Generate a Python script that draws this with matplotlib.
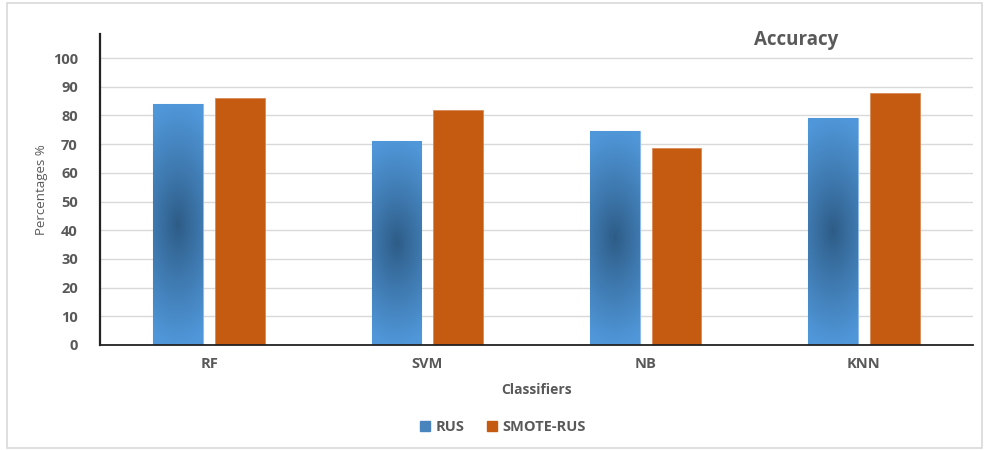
import numpy as np
import matplotlib.pyplot as plt
from matplotlib.patches import Rectangle, Patch
from matplotlib.colors import to_rgb

classifiers = ["RF", "SVM", "NB", "KNN"]
rus = [84.0, 71.2, 74.6, 79.2]
smote_rus = [86.2, 81.9, 68.6, 87.8]

plt.rcParams['font.family'] = ['Open Sans', 'DejaVu Sans']
gray = '#595959'
orange = '#c55a11'
blue_light = np.array(to_rgb('#5097d9'))
blue_dark = np.array(to_rgb('#2d5b85'))

fig = plt.figure(figsize=(9.84, 4.5), dpi=100)
ax = fig.add_axes([100 / 984, 105 / 450, 873 / 984, 311 / 450])

x = np.arange(len(classifiers)) + 0.5
w = 0.228
off = 0.141

rus_bars = ax.bar(x - off, rus, w, color=blue_light, edgecolor='#8fbbe6', linewidth=0.8, zorder=2)
ax.bar(x + off, smote_rus, w, color=orange, edgecolor='#d98a57', linewidth=0.6, zorder=2)

# radial shading for the RUS bars, dark in the middle, lighter at the ends
ny, nx = 200, 40
yy, xx = np.mgrid[-1:1:ny * 1j, -1:1:nx * 1j]
r = np.clip(np.sqrt((0.45 * xx) ** 2 + yy ** 2), 0, 1) ** 0.9
shade = blue_dark + (blue_light - blue_dark) * r[..., None]
for bar in rus_bars:
    x0, h = bar.get_x(), bar.get_height()
    im = ax.imshow(shade, extent=[x0, x0 + w, 0, h], origin='lower',
                   aspect='auto', zorder=2.5, interpolation='bilinear')
    im.set_clip_path(bar)

ax.set_xlim(0, 4)
ax.set_ylim(0, 108.4)
ax.set_yticks(range(0, 101, 10))
ax.set_xticks(x)
ax.set_xticklabels(classifiers)
ax.tick_params(length=0, labelcolor=gray, labelsize=10.5)
ax.tick_params(axis='y', pad=16)
ax.tick_params(axis='x', pad=9)
for lab in ax.get_xticklabels() + ax.get_yticklabels():
    lab.set_fontweight('bold')

ax.set_axisbelow(True)
ax.yaxis.grid(True, color='#d9d9d9', linewidth=1.0)
for s in ['top', 'right']:
    ax.spines[s].set_visible(False)
ax.spines['left'].set_linewidth(1.6)
ax.spines['bottom'].set_linewidth(1.3)
ax.spines['left'].set_color('#222222')
ax.spines['bottom'].set_color('#222222')

ax.set_xlabel("Classifiers", fontsize=10, fontweight='bold', color=gray, labelpad=8)
ax.set_ylabel("Percentages %", fontsize=9.5, color=gray, labelpad=3)
fig.text(796 / 984, 1 - 40 / 450, "Accuracy", fontsize=13.5, fontweight='bold',
         color=gray, ha='center', va='center')

handles = [Patch(color='#4a84bd', label='RUS'), Patch(color=orange, label='SMOTE-RUS')]
leg = fig.legend(handles=handles, loc='center', bbox_to_anchor=(503 / 984, 1 - 427 / 450),
                 ncol=2, frameon=False, handlelength=0.7, handleheight=0.7,
                 handletextpad=0.4, columnspacing=1.5, prop={'size': 10.5, 'weight': 'bold'})
for t in leg.get_texts():
    t.set_color(gray)

fig.patches.append(Rectangle((7 / 984, 2 / 450), 975 / 984, 445 / 450, transform=fig.transFigure,
                             fill=False, edgecolor='#d9d9d9', linewidth=1.2))

fig.savefig("out.png", dpi=100)
